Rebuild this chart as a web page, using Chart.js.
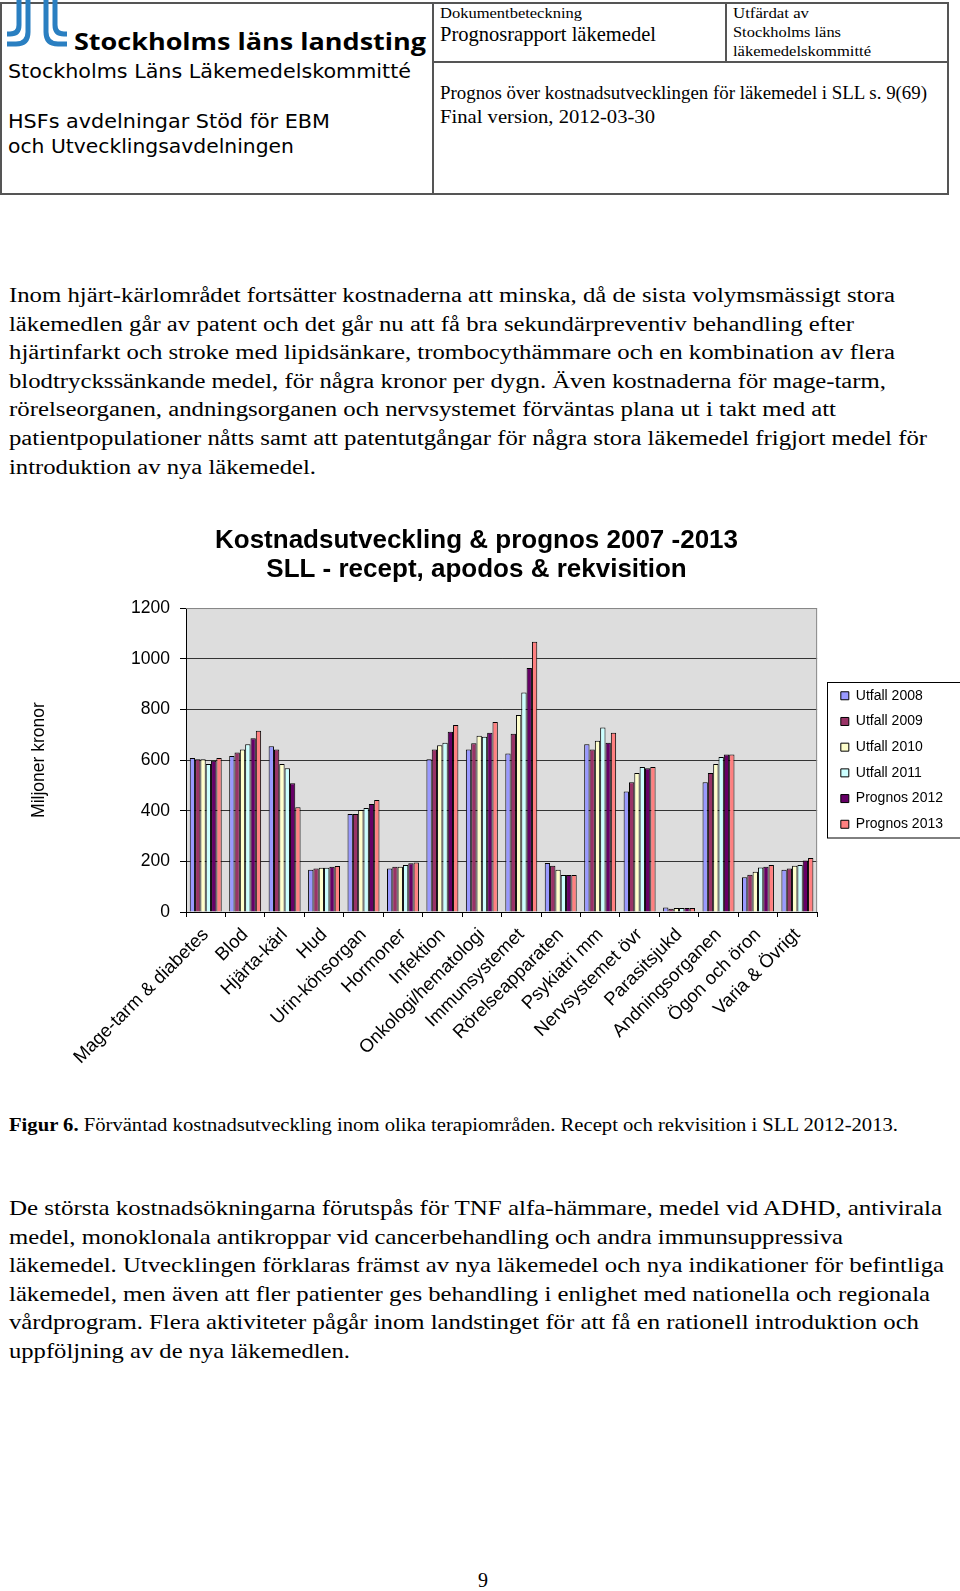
<!DOCTYPE html>
<html lang="sv">
<head>
<meta charset="utf-8">
<title>Prognos över kostnadsutvecklingen för läkemedel i SLL</title>
<script src="https://cdn.jsdelivr.net/npm/chart.js@4.4.0/dist/chart.umd.min.js"></script>
<style>
  html, body { margin: 0; padding: 0; background: #fff; }
  #sida { position: relative; width: 960px; height: 1591px; overflow: hidden; }
  #sida svg { position: absolute; left: 0; top: 0; }
  #diagram { position: absolute; left: 0; top: 510px; }
  .serif { font-family: "Liberation Serif", "Times New Roman", serif; fill: #000; }
  .verd { font-family: "DejaVu Sans", Verdana, sans-serif; fill: #000; }
</style>
</head>
<body>
<div id="sida">
<svg width="960" height="1591" xmlns="http://www.w3.org/2000/svg">
  <!-- sidhuvud -->
  <g fill="none" stroke="#555" stroke-width="2">
    <rect x="1" y="3" width="947" height="191"/>
    <line x1="433" y1="3" x2="433" y2="194"/>
    <line x1="433" y1="62" x2="948" y2="62"/>
    <line x1="726" y1="3" x2="726" y2="62"/>
  </g>
  <g fill="none" stroke="#2a7fc1" stroke-width="5">
    <path d="M19 0 V25 Q19 34 10 34 H7"/>
    <path d="M28 0 V32 Q28 44 16 44 H7"/>
    <path d="M46 0 V32 Q46 44 58 44 H67"/>
    <path d="M55 0 V25 Q55 34 64 34 H67"/>
  </g>
  <text x="74" y="50" font-family="'Open Sans', 'DejaVu Sans', sans-serif" font-weight="bold" font-size="24" textLength="352" lengthAdjust="spacingAndGlyphs">Stockholms läns landsting</text>
  <text class="verd" x="8" y="78" font-size="19" textLength="403" lengthAdjust="spacingAndGlyphs">Stockholms Läns Läkemedelskommitté</text>
  <text class="verd" x="8" y="128" font-size="19" textLength="322" lengthAdjust="spacingAndGlyphs">HSFs avdelningar Stöd för EBM</text>
  <text class="verd" x="8" y="153" font-size="19" textLength="286" lengthAdjust="spacingAndGlyphs">och Utvecklingsavdelningen</text>

  <text class="serif" x="440" y="18" font-size="15" textLength="142" lengthAdjust="spacingAndGlyphs">Dokumentbeteckning</text>
  <text class="serif" x="440" y="41" font-size="21" textLength="216" lengthAdjust="spacingAndGlyphs">Prognosrapport läkemedel</text>
  <text class="serif" x="733" y="18" font-size="15" textLength="76" lengthAdjust="spacingAndGlyphs">Utfärdat av</text>
  <text class="serif" x="733" y="37" font-size="15" textLength="108" lengthAdjust="spacingAndGlyphs">Stockholms läns</text>
  <text class="serif" x="733" y="56" font-size="15" textLength="138" lengthAdjust="spacingAndGlyphs">läkemedelskommitté</text>
  <text class="serif" x="440" y="99" font-size="19.5" textLength="487" lengthAdjust="spacingAndGlyphs">Prognos över kostnadsutvecklingen för läkemedel i SLL s. 9(69)</text>
  <text class="serif" x="440" y="123" font-size="19.5" textLength="215" lengthAdjust="spacingAndGlyphs">Final version, 2012-03-30</text>

  <!-- stycke 1 -->
  <g class="serif" font-size="20.5">
    <text x="9" y="302" textLength="886" lengthAdjust="spacingAndGlyphs">Inom hjärt-kärlområdet fortsätter kostnaderna att minska, då de sista volymsmässigt stora</text>
    <text x="9" y="330.6" textLength="845" lengthAdjust="spacingAndGlyphs">läkemedlen går av patent och det går nu att få bra sekundärpreventiv behandling efter</text>
    <text x="9" y="359.2" textLength="886" lengthAdjust="spacingAndGlyphs">hjärtinfarkt och stroke med lipidsänkare, trombocythämmare och en kombination av flera</text>
    <text x="9" y="387.8" textLength="877" lengthAdjust="spacingAndGlyphs">blodtryckssänkande medel, för några kronor per dygn. Även kostnaderna för mage-tarm,</text>
    <text x="9" y="416.4" textLength="827" lengthAdjust="spacingAndGlyphs">rörelseorganen, andningsorganen och nervsystemet förväntas plana ut i takt med att</text>
    <text x="9" y="445" textLength="918" lengthAdjust="spacingAndGlyphs">patientpopulationer nåtts samt att patentutgångar för några stora läkemedel frigjort medel för</text>
    <text x="9" y="473.6" textLength="307" lengthAdjust="spacingAndGlyphs">introduktion av nya läkemedel.</text>
  </g>

  <!-- figurtext -->
  <text class="serif" x="9" y="1130.5" font-size="19" textLength="889" lengthAdjust="spacingAndGlyphs"><tspan font-weight="bold">Figur 6.</tspan> Förväntad kostnadsutveckling inom olika terapiområden. Recept och rekvisition i SLL 2012-2013.</text>

  <!-- stycke 2 -->
  <g class="serif" font-size="21.5">
    <text x="9" y="1215" textLength="933" lengthAdjust="spacingAndGlyphs">De största kostnadsökningarna förutspås för TNF alfa-hämmare, medel vid ADHD, antivirala</text>
    <text x="9" y="1243.6" textLength="834" lengthAdjust="spacingAndGlyphs">medel, monoklonala antikroppar vid cancerbehandling och andra immunsuppressiva</text>
    <text x="9" y="1272.2" textLength="935" lengthAdjust="spacingAndGlyphs">läkemedel. Utvecklingen förklaras främst av nya läkemedel och nya indikationer för befintliga</text>
    <text x="9" y="1300.8" textLength="921" lengthAdjust="spacingAndGlyphs">läkemedel, men även att fler patienter ges behandling i enlighet med nationella och regionala</text>
    <text x="9" y="1329.4" textLength="910" lengthAdjust="spacingAndGlyphs">vårdprogram. Flera aktiviteter pågår inom landstinget för att få en rationell introduktion och</text>
    <text x="9" y="1358" textLength="341" lengthAdjust="spacingAndGlyphs">uppföljning av de nya läkemedlen.</text>
  </g>

  <text class="serif" x="483" y="1587" font-size="20" text-anchor="middle">9</text>
</svg>
<canvas id="diagram" width="960" height="570"></canvas>
</div>

<script>
// --- Data ---
const kategorier = ['Mage-tarm & diabetes', 'Blod', 'Hjärta-kärl', 'Hud', 'Urin-könsorgan', 'Hormoner',
    'Infektion', 'Onkologi/hematologi', 'Immunsystemet', 'Rörelseapparaten', 'Psykiatri mm',
    'Nervsystemet övr', 'Parasitsjukd', 'Andningsorganen', 'Ögon och öron', 'Varia & Övrigt'];

const utfall2008  = [608, 616, 654, 167, 387, 172, 603, 642,  626, 193, 662, 476, 18, 512, 137, 167];
const utfall2009  = [603, 630, 642, 172, 387, 179, 642, 666,  704, 183, 642, 512, 13, 549, 147, 172];
const utfall2010  = [603, 642, 584, 175, 403, 179, 658, 696,  778, 167, 676, 549, 16, 584, 159, 183];
const utfall2011  = [584, 662, 568, 175, 411, 186, 668, 692,  867, 146, 728, 572, 16, 612, 176, 186];
const prognos2012 = [597, 686, 508, 179, 426, 192, 712, 708,  963, 146, 668, 568, 16, 622, 179, 203];
const prognos2013 = [608, 716, 414, 182, 442, 195, 738, 750, 1067, 146, 708, 572, 16, 622, 186, 213];

const serieNamn = ['Utfall 2008', 'Utfall 2009', 'Utfall 2010', 'Utfall 2011', 'Prognos 2012', 'Prognos 2013'];
const yTicks = [0, 200, 400, 600, 800, 1000, 1200];

// --- Utseende ---
const farger = ['#9999FF', '#993366', '#FFFFCC', '#CCFFFF', '#660066', '#FF8080'];
const serier = [utfall2008, utfall2009, utfall2010, utfall2011, prognos2012, prognos2013];

Chart.defaults.font.family = '"Liberation Sans", Arial, sans-serif';
Chart.defaults.color = '#000';

// grå bakgrund i ritytan + ram
const plotBakgrund = {
    id: 'plotBakgrund',
    beforeDraw(chart) {
        const {ctx, chartArea: a} = chart;
        ctx.save();
        ctx.fillStyle = '#DDDDDD';
        ctx.fillRect(a.left, a.top, a.right - a.left, a.bottom - a.top);
        ctx.restore();
    },
    afterDraw(chart) {
        const {ctx, chartArea: a} = chart;
        ctx.save();
        ctx.strokeStyle = '#888';
        ctx.lineWidth = 1;
        ctx.beginPath();
        ctx.moveTo(a.left, a.top + 0.5);
        ctx.lineTo(a.right - 0.5, a.top + 0.5);
        ctx.lineTo(a.right - 0.5, a.bottom);
        ctx.stroke();
        ctx.restore();
    }
};

// ram runt förklaringen
const legendRam = {
    id: 'legendRam',
    afterDraw(chart) {
        const boxar = chart.legend.legendHitBoxes;
        if (!boxar || !boxar.length) return;
        const forsta = boxar[0];
        const sista = boxar[boxar.length - 1];
        const ctx = chart.ctx;
        const x = Math.round(forsta.left - 14) + 0.5;
        const y = Math.round(forsta.top - 7) + 0.5;
        const h = Math.round(sista.top + sista.height + 7) - y;
        ctx.save();
        ctx.strokeStyle = '#000';
        ctx.lineWidth = 1;
        ctx.strokeRect(x, y, chart.width + 5 - x, h);
        ctx.restore();
    }
};

const ctx = document.getElementById('diagram');
const diagram = new Chart(ctx, {
    type: 'bar',
    data: {
        labels: kategorier,
        datasets: serier.map((data, i) => ({
            label: serieNamn[i],
            data: data,
            backgroundColor: farger[i],
            borderColor: '#000',
            borderWidth: 1,
            categoryPercentage: 0.81,
            barPercentage: 1.0,
            yAxisID: 'y'
        }))
    },
    options: {
        responsive: false,
        animation: false,
        devicePixelRatio: 1,
        layout: {
            padding: { top: 0, right: 7, bottom: 0, left: 0 }
        },
        scales: {
            x: {
                grid: {
                    display: true,
                    drawOnChartArea: false,
                    drawTicks: true,
                    tickLength: 5,
                    offset: true,
                    tickColor: '#000'
                },
                border: { display: true, color: '#000', width: 1 },
                ticks: {
                    autoSkip: false,
                    minRotation: 45,
                    maxRotation: 45,
                    padding: 7,
                    font: { size: 18.5 },
                    color: '#000'
                },
                afterFit: (s) => { s.height = 168; }
            },
            y: {
                position: 'left',
                min: 0,
                max: 1200,
                afterBuildTicks: (s) => { s.ticks = yTicks.map(v => ({ value: v })); },
                grid: {
                    color: (c) => (c.tick && c.tick.value === 1200 ? '#888' : '#333'),
                    lineWidth: 1,
                    tickLength: 6,
                    tickColor: '#000'
                },
                border: { display: true, color: '#000', width: 1 },
                ticks: {
                    padding: 10,
                    font: { size: 17.5 },
                    color: '#000',
                    callback: (v) => String(v)
                },
                title: {
                    display: true,
                    text: 'Miljoner kronor',
                    font: { size: 17.5 },
                    color: '#000',
                    padding: { top: 29, bottom: 81 }
                },
                afterFit: (s) => { s.width = 186; }
            },
            gap: {
                type: 'linear',
                position: 'right',
                display: true,
                grid: { display: false },
                border: { display: false },
                ticks: { display: false },
                afterFit: (s) => { s.width = 12; }
            }
        },
        plugins: {
            title: {
                display: true,
                text: ['Kostnadsutveckling & prognos 2007 -2013', 'SLL - recept, apodos & rekvisition'],
                font: { size: 26, weight: 'bold', lineHeight: 1.12 },
                color: '#000',
                padding: { top: 16, bottom: 23.8 }
            },
            legend: {
                display: true,
                position: 'right',
                align: 'center',
                fullSize: false,
                labels: {
                    boxWidth: 8,
                    boxHeight: 8,
                    padding: 11.7,
                    font: { size: 14 },
                    color: '#000'
                }
            },
            tooltip: { enabled: false }
        }
    },
    plugins: [plotBakgrund, legendRam]
});
</script>
</body>
</html>
